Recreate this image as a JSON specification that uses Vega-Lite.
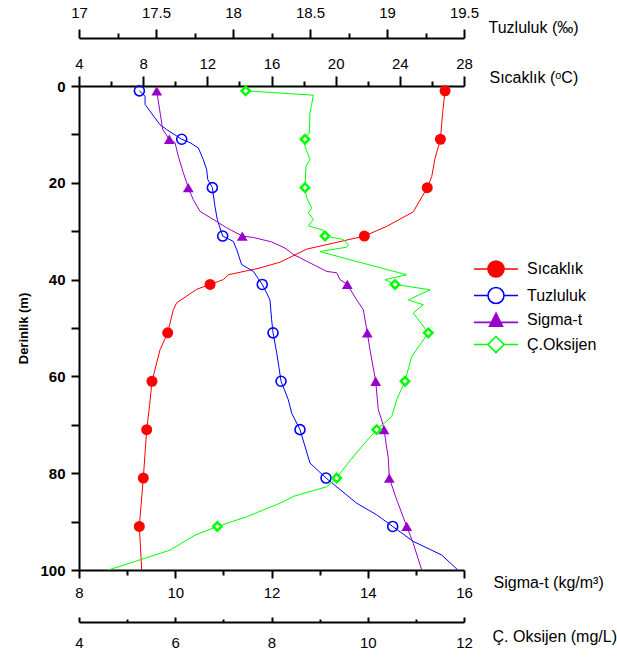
{
  "$schema": "https://vega.github.io/schema/vega-lite/v6.json",
  "width": 385,
  "height": 484,
  "autosize": "none",
  "padding": {"left": 79, "top": 86, "right": 153, "bottom": 89},
  "config": {
    "view": {"stroke": null},
    "font": "Liberation Sans",
    "axis": {
      "grid": false,
      "domainColor": "black",
      "domainWidth": 2,
      "tickColor": "black",
      "tickWidth": 2,
      "labelColor": "black",
      "titleColor": "black",
      "labelFont": "Liberation Sans",
      "titleFont": "Liberation Sans",
      "labelFontSize": 15,
      "titleFontSize": 16,
      "titleFontWeight": "normal",
      "labelFlush": false,
      "labelOverlap": false,
      "labelBound": false
    }
  },
  "datasets": {
    "sicaklik_cizgi": [
      {"derinlik": 1, "sicaklik": 26.82}, {"derinlik": 5.5, "sicaklik": 26.67}, {"derinlik": 11, "sicaklik": 26.53},
      {"derinlik": 15, "sicaklik": 26.19}, {"derinlik": 18.7, "sicaklik": 25.99}, {"derinlik": 21, "sicaklik": 25.71},
      {"derinlik": 26, "sicaklik": 24.84}, {"derinlik": 29, "sicaklik": 23.18}, {"derinlik": 31, "sicaklik": 21.79},
      {"derinlik": 33.7, "sicaklik": 18.2}, {"derinlik": 36.4, "sicaklik": 16.53}, {"derinlik": 37.6, "sicaklik": 15.28},
      {"derinlik": 39, "sicaklik": 13.31}, {"derinlik": 40, "sicaklik": 13.0}, {"derinlik": 41, "sicaklik": 12.17},
      {"derinlik": 42, "sicaklik": 11.34}, {"derinlik": 44.8, "sicaklik": 10.09}, {"derinlik": 46.2, "sicaklik": 9.88},
      {"derinlik": 51, "sicaklik": 9.53}, {"derinlik": 54.5, "sicaklik": 9.05}, {"derinlik": 61, "sicaklik": 8.55},
      {"derinlik": 66, "sicaklik": 8.4}, {"derinlik": 71, "sicaklik": 8.22}, {"derinlik": 81, "sicaklik": 8.01},
      {"derinlik": 91, "sicaklik": 7.76}, {"derinlik": 100, "sicaklik": 7.91}
    ],
    "sicaklik_nokta": [
      {"derinlik": 1, "sicaklik": 26.82}, {"derinlik": 11, "sicaklik": 26.53}, {"derinlik": 21, "sicaklik": 25.71},
      {"derinlik": 31, "sicaklik": 21.79}, {"derinlik": 41, "sicaklik": 12.17}, {"derinlik": 51, "sicaklik": 9.53},
      {"derinlik": 61, "sicaklik": 8.55}, {"derinlik": 71, "sicaklik": 8.22}, {"derinlik": 81, "sicaklik": 8.01},
      {"derinlik": 91, "sicaklik": 7.76}
    ],
    "tuzluluk_cizgi": [
      {"derinlik": 1, "tuzluluk": 17.392}, {"derinlik": 2.1, "tuzluluk": 17.429}, {"derinlik": 3.8, "tuzluluk": 17.429},
      {"derinlik": 5.2, "tuzluluk": 17.461}, {"derinlik": 8, "tuzluluk": 17.526}, {"derinlik": 9, "tuzluluk": 17.569},
      {"derinlik": 11, "tuzluluk": 17.667}, {"derinlik": 11.7, "tuzluluk": 17.721}, {"derinlik": 12.8, "tuzluluk": 17.775},
      {"derinlik": 15.2, "tuzluluk": 17.807}, {"derinlik": 17.3, "tuzluluk": 17.829}, {"derinlik": 19.3, "tuzluluk": 17.836},
      {"derinlik": 21, "tuzluluk": 17.866}, {"derinlik": 24.9, "tuzluluk": 17.883}, {"derinlik": 27.6, "tuzluluk": 17.898},
      {"derinlik": 31, "tuzluluk": 17.933}, {"derinlik": 32.1, "tuzluluk": 18.002}, {"derinlik": 33.8, "tuzluluk": 18.024},
      {"derinlik": 36.9, "tuzluluk": 18.056}, {"derinlik": 38.3, "tuzluluk": 18.132}, {"derinlik": 41, "tuzluluk": 18.19},
      {"derinlik": 42.8, "tuzluluk": 18.219}, {"derinlik": 44.2, "tuzluluk": 18.24}, {"derinlik": 48.3, "tuzluluk": 18.251},
      {"derinlik": 51, "tuzluluk": 18.26}, {"derinlik": 55.2, "tuzluluk": 18.284}, {"derinlik": 61, "tuzluluk": 18.312},
      {"derinlik": 64.8, "tuzluluk": 18.359}, {"derinlik": 67.6, "tuzluluk": 18.381}, {"derinlik": 71, "tuzluluk": 18.435},
      {"derinlik": 77.9, "tuzluluk": 18.5}, {"derinlik": 81, "tuzluluk": 18.604}, {"derinlik": 86.2, "tuzluluk": 18.803},
      {"derinlik": 88.6, "tuzluluk": 18.933}, {"derinlik": 91, "tuzluluk": 19.037}, {"derinlik": 94.1, "tuzluluk": 19.171},
      {"derinlik": 96.9, "tuzluluk": 19.355}, {"derinlik": 100, "tuzluluk": 19.46}
    ],
    "tuzluluk_nokta": [
      {"derinlik": 1, "tuzluluk": 17.392}, {"derinlik": 11, "tuzluluk": 17.667}, {"derinlik": 21, "tuzluluk": 17.866},
      {"derinlik": 31, "tuzluluk": 17.933}, {"derinlik": 41, "tuzluluk": 18.19}, {"derinlik": 51, "tuzluluk": 18.26},
      {"derinlik": 61, "tuzluluk": 18.312}, {"derinlik": 71, "tuzluluk": 18.435}, {"derinlik": 81, "tuzluluk": 18.604},
      {"derinlik": 91, "tuzluluk": 19.037}
    ],
    "sigma_cizgi": [
      {"derinlik": 1, "sigma_t": 9.615}, {"derinlik": 9, "sigma_t": 9.739}, {"derinlik": 11, "sigma_t": 9.876},
      {"derinlik": 11.7, "sigma_t": 9.995}, {"derinlik": 14.5, "sigma_t": 10.063}, {"derinlik": 17.9, "sigma_t": 10.167},
      {"derinlik": 21, "sigma_t": 10.271}, {"derinlik": 23.5, "sigma_t": 10.375}, {"derinlik": 25.9, "sigma_t": 10.514},
      {"derinlik": 28, "sigma_t": 10.861}, {"derinlik": 29.3, "sigma_t": 11.069}, {"derinlik": 31, "sigma_t": 11.393},
      {"derinlik": 31.3, "sigma_t": 11.622}, {"derinlik": 32.2, "sigma_t": 12.0}, {"derinlik": 33.5, "sigma_t": 12.281},
      {"derinlik": 34.8, "sigma_t": 12.453}, {"derinlik": 38.3, "sigma_t": 13.147}, {"derinlik": 38.6, "sigma_t": 13.355},
      {"derinlik": 40, "sigma_t": 13.423}, {"derinlik": 41, "sigma_t": 13.575}, {"derinlik": 44.2, "sigma_t": 13.77},
      {"derinlik": 46.2, "sigma_t": 13.908}, {"derinlik": 51, "sigma_t": 13.99}, {"derinlik": 54.5, "sigma_t": 14.047},
      {"derinlik": 61, "sigma_t": 14.165}, {"derinlik": 66.9, "sigma_t": 14.219}, {"derinlik": 69, "sigma_t": 14.29},
      {"derinlik": 71, "sigma_t": 14.338}, {"derinlik": 76.9, "sigma_t": 14.427}, {"derinlik": 81, "sigma_t": 14.448},
      {"derinlik": 85.5, "sigma_t": 14.602}, {"derinlik": 91, "sigma_t": 14.81}, {"derinlik": 94.5, "sigma_t": 14.946},
      {"derinlik": 100, "sigma_t": 15.121}
    ],
    "sigma_nokta": [
      {"derinlik": 1, "sigma_t": 9.615}, {"derinlik": 11, "sigma_t": 9.876}, {"derinlik": 21, "sigma_t": 10.271},
      {"derinlik": 31, "sigma_t": 11.393}, {"derinlik": 41, "sigma_t": 13.575}, {"derinlik": 51, "sigma_t": 13.99},
      {"derinlik": 61, "sigma_t": 14.165}, {"derinlik": 71, "sigma_t": 14.338}, {"derinlik": 81, "sigma_t": 14.448},
      {"derinlik": 91, "sigma_t": 14.81}
    ],
    "oksijen_cizgi": [
      {"derinlik": 1, "oksijen": 7.464}, {"derinlik": 1.9, "oksijen": 8.869}, {"derinlik": 3.8, "oksijen": 8.835},
      {"derinlik": 5.5, "oksijen": 8.8}, {"derinlik": 9.7, "oksijen": 8.786}, {"derinlik": 11, "oksijen": 8.696},
      {"derinlik": 12.5, "oksijen": 8.696}, {"derinlik": 15.2, "oksijen": 8.8}, {"derinlik": 16.6, "oksijen": 8.717},
      {"derinlik": 21, "oksijen": 8.696}, {"derinlik": 23.1, "oksijen": 8.731}, {"derinlik": 25.2, "oksijen": 8.835},
      {"derinlik": 26.2, "oksijen": 8.765}, {"derinlik": 27.6, "oksijen": 8.869}, {"derinlik": 28.9, "oksijen": 8.765},
      {"derinlik": 29.8, "oksijen": 9.076}, {"derinlik": 31, "oksijen": 9.112}, {"derinlik": 31.7, "oksijen": 9.492},
      {"derinlik": 32.8, "oksijen": 9.596}, {"derinlik": 33.3, "oksijen": 9.563}, {"derinlik": 34.2, "oksijen": 9.008},
      {"derinlik": 35.9, "oksijen": 9.631}, {"derinlik": 39, "oksijen": 10.809}, {"derinlik": 40, "oksijen": 10.358},
      {"derinlik": 41, "oksijen": 10.566}, {"derinlik": 42.1, "oksijen": 11.294}, {"derinlik": 44.2, "oksijen": 10.843},
      {"derinlik": 45.2, "oksijen": 11.154}, {"derinlik": 46.9, "oksijen": 10.946}, {"derinlik": 51, "oksijen": 11.258},
      {"derinlik": 55.9, "oksijen": 10.913}, {"derinlik": 61, "oksijen": 10.774}, {"derinlik": 64.8, "oksijen": 10.602},
      {"derinlik": 68.3, "oksijen": 10.498}, {"derinlik": 71, "oksijen": 10.186}, {"derinlik": 73.3, "oksijen": 9.978},
      {"derinlik": 77.4, "oksijen": 9.631}, {"derinlik": 81, "oksijen": 9.355}, {"derinlik": 82.8, "oksijen": 9.147},
      {"derinlik": 84.8, "oksijen": 8.453}, {"derinlik": 86.2, "oksijen": 8.177}, {"derinlik": 89, "oksijen": 7.485},
      {"derinlik": 91, "oksijen": 6.874}, {"derinlik": 92.8, "oksijen": 6.41}, {"derinlik": 95.9, "oksijen": 5.891},
      {"derinlik": 97.9, "oksijen": 5.268}, {"derinlik": 100, "oksijen": 4.609}
    ],
    "oksijen_nokta": [
      {"derinlik": 1, "oksijen": 7.464}, {"derinlik": 11, "oksijen": 8.696}, {"derinlik": 21, "oksijen": 8.696},
      {"derinlik": 31, "oksijen": 9.112}, {"derinlik": 41, "oksijen": 10.566}, {"derinlik": 51, "oksijen": 11.258},
      {"derinlik": 61, "oksijen": 10.774}, {"derinlik": 71, "oksijen": 10.186}, {"derinlik": 81, "oksijen": 9.355},
      {"derinlik": 91, "oksijen": 6.874}
    ],
    "seriler": [
      {"seri": "Sıcaklık", "derinlik": 50}, {"seri": "Tuzluluk", "derinlik": 50},
      {"seri": "Sigma-t", "derinlik": 50}, {"seri": "Ç.Oksijen", "derinlik": 50}
    ]
  },
  "resolve": {"scale": {"x": "independent"}, "axis": {"x": "independent"}},
  "encoding": {
    "y": {
      "field": "derinlik", "type": "quantitative",
      "scale": {"domain": [0, 100], "reverse": true, "nice": false, "zero": false},
      "axis": {
        "title": "Derinlik (m)",
        "values": [0, 10, 20, 30, 40, 50, 60, 70, 80, 90, 100],
        "labelExpr": "datum.value % 20 == 0 ? datum.label : ''",
        "tickSize": 8,
        "labelPadding": 6,
        "labelFontWeight": "bold",
        "labelFontSize": 15,
        "titleFontWeight": "bold",
        "titleFontSize": 13,
        "titlePadding": 9
      }
    }
  },
  "layer": [
    {
      "data": {"name": "sicaklik_cizgi"},
      "mark": {"type": "line", "color": "#ff0000", "strokeWidth": 1},
      "encoding": {
        "x": {
          "field": "sicaklik", "type": "quantitative",
          "scale": {"domain": [4, 28], "nice": false, "zero": false},
          "axis": {
            "orient": "top", "offset": 0, "title": "Sıcaklık (ᵒC)",
            "values": [4, 8, 12, 16, 20, 24, 28], "format": "~g",
            "tickSize": 10, "labelPadding": 5,
            "titleX": 410, "titleY": -9, "titleAlign": "left", "titleBaseline": "middle", "titleAngle": 0
          }
        },
        "order": {"field": "derinlik", "type": "quantitative"}
      }
    },
    {
      "data": {"name": "sicaklik_nokta"},
      "mark": {"type": "point", "shape": "circle", "filled": true, "color": "#ff0000", "size": 121, "opacity": 1},
      "encoding": {
        "x": {
          "field": "sicaklik", "type": "quantitative",
          "scale": {"domain": [4, 28], "nice": false, "zero": false},
          "axis": {"orient": "top", "offset": 0, "title": null, "values": [6, 10, 14, 18, 22, 26], "labels": false, "domain": false, "tickSize": 5}
        }
      }
    },
    {
      "data": {"name": "tuzluluk_cizgi"},
      "mark": {"type": "line", "color": "#0000ff", "strokeWidth": 1},
      "encoding": {
        "x": {
          "field": "tuzluluk", "type": "quantitative",
          "scale": {"domain": [17, 19.5], "nice": false, "zero": false},
          "axis": {
            "orient": "top", "offset": 48, "title": "Tuzluluk (‰)",
            "values": [17, 17.5, 18, 18.5, 19, 19.5], "format": "~g",
            "tickSize": 9, "labelPadding": 9,
            "titleX": 409, "titleY": -11, "titleAlign": "left", "titleBaseline": "middle", "titleAngle": 0
          }
        },
        "order": {"field": "derinlik", "type": "quantitative"}
      }
    },
    {
      "data": {"name": "tuzluluk_nokta"},
      "mark": {"type": "point", "shape": "circle", "filled": false, "color": "#0000ff", "size": 100, "strokeWidth": 1.6, "opacity": 1},
      "encoding": {
        "x": {
          "field": "tuzluluk", "type": "quantitative",
          "scale": {"domain": [17, 19.5], "nice": false, "zero": false},
          "axis": {"orient": "top", "offset": 48, "title": null, "values": [17.25, 17.75, 18.25, 18.75, 19.25], "labels": false, "domain": false, "tickSize": 5}
        }
      }
    },
    {
      "data": {"name": "sigma_cizgi"},
      "mark": {"type": "line", "color": "#9900cc", "strokeWidth": 1},
      "encoding": {
        "x": {
          "field": "sigma_t", "type": "quantitative",
          "scale": {"domain": [8, 16], "nice": false, "zero": false},
          "axis": {
            "orient": "bottom", "offset": 0, "title": "Sigma-t (kg/m³)",
            "values": [8, 10, 12, 14, 16], "format": "~g",
            "tickSize": 8, "labelPadding": 7,
            "titleX": 414, "titleY": 12, "titleAlign": "left", "titleBaseline": "middle", "titleAngle": 0
          }
        },
        "order": {"field": "derinlik", "type": "quantitative"}
      }
    },
    {
      "data": {"name": "sigma_nokta"},
      "mark": {"type": "point", "shape": "triangle-up", "filled": true, "color": "#9900cc", "size": 115, "opacity": 1},
      "encoding": {
        "x": {
          "field": "sigma_t", "type": "quantitative",
          "scale": {"domain": [8, 16], "nice": false, "zero": false},
          "axis": {"orient": "bottom", "offset": 0, "title": null, "values": [9, 11, 13, 15], "labels": false, "domain": false, "tickSize": 5}
        }
      }
    },
    {
      "data": {"name": "oksijen_cizgi"},
      "mark": {"type": "line", "color": "#00ff00", "strokeWidth": 1},
      "encoding": {
        "x": {
          "field": "oksijen", "type": "quantitative",
          "scale": {"domain": [4, 12], "nice": false, "zero": false},
          "axis": {
            "orient": "bottom", "offset": 52, "title": "Ç. Oksijen (mg/L)",
            "values": [4, 6, 8, 10, 12], "format": "~g",
            "tickSize": -5, "labelPadding": 18,
            "titleX": 413, "titleY": 14, "titleAlign": "left", "titleBaseline": "middle", "titleAngle": 0
          }
        },
        "order": {"field": "derinlik", "type": "quantitative"}
      }
    },
    {
      "data": {"name": "oksijen_nokta"},
      "mark": {"type": "point", "shape": "diamond", "filled": false, "fill": "white", "fillOpacity": 1, "color": "#00ff00", "size": 70, "strokeWidth": 2.5, "opacity": 1},
      "encoding": {
        "x": {
          "field": "oksijen", "type": "quantitative",
          "scale": {"domain": [4, 12], "nice": false, "zero": false},
          "axis": {"orient": "bottom", "offset": 52, "title": null, "values": [5, 7, 9, 11], "labels": false, "domain": false, "tickSize": -3}
        }
      }
    },
    {
      "data": {"name": "seriler"},
      "mark": {"type": "point", "opacity": 0},
      "encoding": {
        "stroke": {
          "field": "seri", "type": "nominal",
          "scale": {"domain": ["Sıcaklık", "Tuzluluk", "Sigma-t", "Ç.Oksijen"], "range": ["#ff0000", "#0000ff", "#9900cc", "#00ff00"]},
          "legend": {"orient": "none", "legendX": 408, "legendY": 174, "title": null, "padding": 0, "symbolSize": 256, "symbolStrokeWidth": 1.6, "symbolOpacity": 1, "labelFontSize": 16, "labelFont": "Liberation Sans", "labelColor": "black", "labelOffset": 22, "rowPadding": 2.5}
        },
        "fill": {
          "field": "seri", "type": "nominal",
          "scale": {"domain": ["Sıcaklık", "Tuzluluk", "Sigma-t", "Ç.Oksijen"], "range": ["#ff0000", "#ffffff", "#9900cc", "#ffffff"]},
          "legend": {"orient": "none", "legendX": 408, "legendY": 174, "title": null, "padding": 0, "symbolSize": 256, "symbolStrokeWidth": 1.6, "symbolOpacity": 1, "labelFontSize": 16, "labelFont": "Liberation Sans", "labelColor": "black", "labelOffset": 22, "rowPadding": 2.5}
        },
        "shape": {
          "field": "seri", "type": "nominal",
          "scale": {
            "domain": ["Sıcaklık", "Tuzluluk", "Sigma-t", "Ç.Oksijen"],
            "range": [
              "M-2.75,0H-1M1,0H2.75M-1,0A1,1 0 1,1 1,0A1,1 0 1,1 -1,0Z",
              "M-2.75,0H-1M1,0H2.75M-1,0A1,1 0 1,1 1,0A1,1 0 1,1 -1,0Z",
              "M-2.75,0.3H-0.575M0.575,0.3H2.75M0,-0.85L0.81,0.77L-0.81,0.77Z",
              "M-2.75,0H-1M1,0H2.75M0,-1L1,0L0,1L-1,0Z"
            ]
          },
          "legend": {"orient": "none", "legendX": 408, "legendY": 174, "title": null, "padding": 0, "symbolSize": 256, "symbolStrokeWidth": 1.6, "symbolOpacity": 1, "labelFontSize": 16, "labelFont": "Liberation Sans", "labelColor": "black", "labelOffset": 22, "rowPadding": 2.5}
        }
      }
    }
  ]
}
